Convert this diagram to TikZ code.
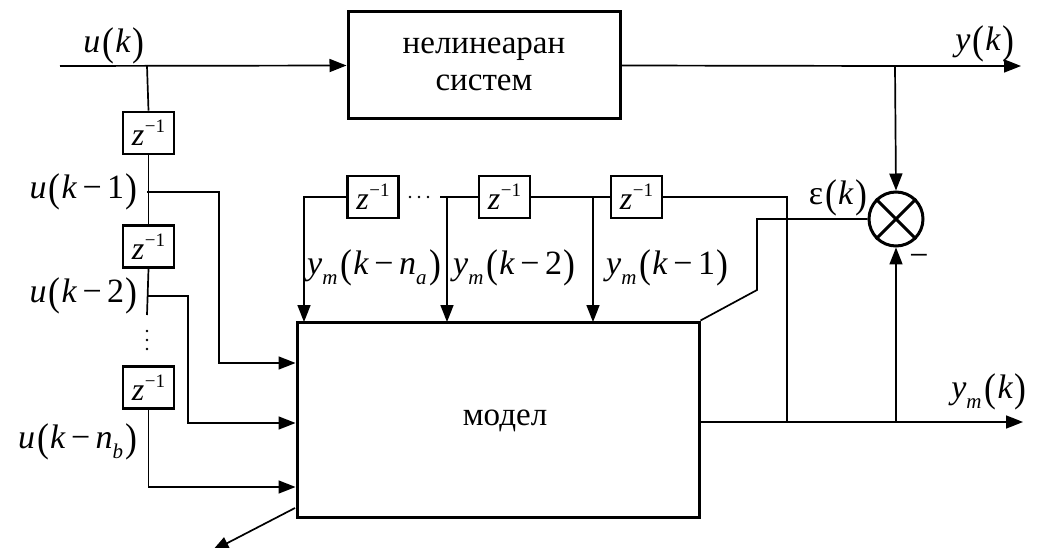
\documentclass[tikz,border=0pt]{standalone}
\usepackage{fontspec}
\setmainfont{Liberation Serif}
\usetikzlibrary{arrows.meta}

% symbols in the labels
\newcommand\va[1]{\textit{#1}}
\newcommand\lp{\hspace{0.06em}\raisebox{-0.08em}{\scalebox{1.05}[1.18]{(}}\hspace{0.03em}}
\newcommand\rp{\hspace{0.05em}\raisebox{-0.08em}{\scalebox{1.05}[1.18]{)}}}
\newcommand\mn{\hspace{0.16em}−\hspace{0.16em}}
\newcommand\sub[1]{\raisebox{-0.27em}{\fontsize{21}{21}\selectfont\textit{#1}}\hspace{0.03em}}
\newcommand\zinv{\textit{z}\hspace{0.02em}\raisebox{0.42em}{\fontsize{19}{19}\selectfont −1}}

\tikzset{
  wire/.style={line width=1.7pt},
  arr/.style={wire,-{Triangle[length=17pt,width=13pt]}},
  blk/.style={draw,line width=3pt,inner sep=0pt},
  btxt/.style={inner sep=0pt,font=\fontsize{33}{37}\selectfont,align=center},
  dly/.style={draw,line width=2.8pt,minimum width=51pt,minimum height=42pt,inner sep=0pt,
              font=\fontsize{32}{32}\selectfont},
  lbl/.style={inner sep=0pt,font=\fontsize{34}{34}\selectfont},
  dot/.style={fill,circle,inner sep=0pt,minimum size=2.8pt}
}

\begin{document}
\begin{tikzpicture}[x=1pt,y=-1pt]
\clip (0,0) rectangle (1039,548);
\fill[white] (0,0) rectangle (1039,548);

% main blocks
\node[blk,minimum width=272pt,minimum height=107pt] (nl) at (484,65.5) {};
\node[btxt] (nltxt) at (484,64) {нелинеаран\\систем};
\node[blk,minimum width=402pt,minimum height=195pt] (mod) at (498,419.5) {};
\node[btxt] (modtxt) at (505,421) {модел};

% comparator
\node[draw,circle,line width=3pt,minimum size=54pt,inner sep=0pt] (cmp) at (896,219) {};
\draw[line width=3pt] (cmp.north west) -- (cmp.south east) (cmp.north east) -- (cmp.south west);

% delays of the input
\node[dly] (du1) at (148.5,133) {\zinv};
\node[dly] (du2) at (148.5,246.5) {\zinv};
\node[dly] (du3) at (148.5,387.5) {\zinv};

% delays of the model output
\node[dly] (dy1) at (373,197) {\zinv};
\node[dly] (dy2) at (504.5,197) {\zinv};
\node[dly] (dy3) at (636.5,197) {\zinv};

% helper points
\coordinate (in) at (60,66);
\coordinate (yout) at (1021,66);
\coordinate (ymout) at (1023,422);
\coordinate (bu) at (147,66);
\coordinate (by) at (895,66);
\coordinate (t1) at (147,192);
\coordinate (t2) at (147,296);
\coordinate (tend) at (147,315);
\coordinate (eA) at (757,219);
\coordinate (eB) at (757,290);
\coordinate (r1) at (787,422);
\coordinate (r2) at (896,422);
\coordinate (ml) at (295,508);
\coordinate (adj) at (212,551);

% forward path
\draw[arr] (in) -- (nl.west);
\draw[wire] (nl.east) -- (by);
\draw[arr] (by) -- (yout);
\draw[arr] (by) -- (cmp.north);

% input delay line
\draw[wire] (bu) -- (du1.north);
\draw[wire] (du1.south) -- (du2.north);
\draw[wire] (du2.south) -- (tend);
\draw[arr] (du3.south) |- (mod.west |- 0,487);
\draw[arr] (t1) -- (219,192) |- (mod.west |- 0,363);
\draw[arr] (t2) -- (188,296) |- (mod.west |- 0,423);
\node[dot] (v1) at (147,331) {};
\node[dot] (v2) at (147,340) {};
\node[dot] (v3) at (147,349) {};

% model output and its delay line
\draw[wire] (mod.east |- r1) -- (r1);
\draw[arr] (r1) -- (ymout);
\draw[arr] (r2) -- (cmp.south);
\draw[wire] (r1) |- (dy3.east);
\draw[wire] (dy3.west) -- (dy2.east);
\draw[wire] (dy2.west) -- (440,197);
\draw[arr] (593,197) -- (593 ,322);
\draw[arr] (447,197) -- (447,322);
\draw[arr] (dy1.west) -| (304,322);
\node[dot] (h1) at (410,197) {};
\node[dot] (h2) at (419,197) {};
\node[dot] (h3) at (428,197) {};

% error signal to the model
\draw[wire] (cmp.west) -- (eA) -- (eB) -- (mod.north east);
% parameter adjustment
\draw[arr] (ml) -- (adj);

% labels
\node[lbl] (lu) at (114,46) {\va{u}\lp\va{k}\rp};
\node[lbl] (ly) at (985,44) {\va{y}\lp\va{k}\rp};
\node[lbl] (lym) at (989,392) {\va{y}\sub{m}\lp\va{k}\rp};
\node[lbl] (le) at (838,198) {ε\lp\va{k}\rp};
\node[lbl,anchor=base] (lmin) at (919,266) {−};
\node[lbl,anchor=east] (lu1) at (138,192) {\va{u}\lp\va{k}\mn1\rp};
\node[lbl,anchor=east] (lu2) at (138,296) {\va{u}\lp\va{k}\mn2\rp};
\node[lbl,anchor=east] (lu3) at (138,442) {\va{u}\lp\va{k}\mn\va{n}\sub{b}\rp};
\node[lbl,anchor=west] (ly3) at (307,268) {\va{y}\sub{m}\lp\va{k}\mn\va{n}\sub{a}\rp};
\node[lbl,anchor=west] (ly2) at (453,268) {\va{y}\sub{m}\lp\va{k}\mn2\rp};
\node[lbl,anchor=west] (ly1) at (606,268) {\va{y}\sub{m}\lp\va{k}\mn1\rp};
\end{tikzpicture}
\end{document}
